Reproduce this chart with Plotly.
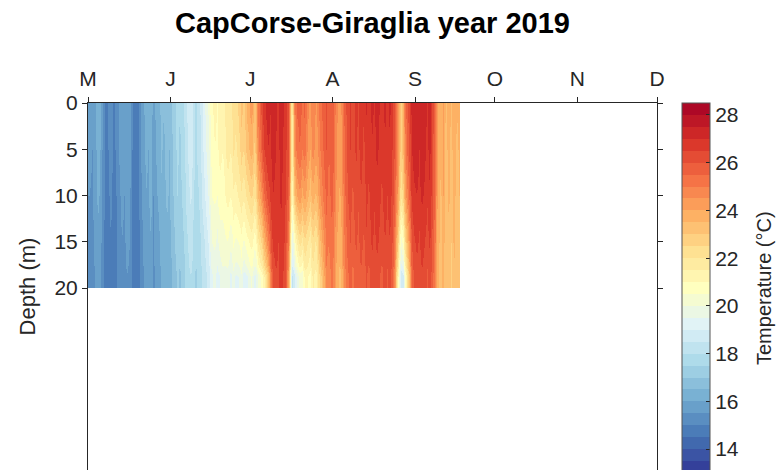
import numpy as np
import pandas as pd
import plotly.graph_objects as go

# ---------------- data (daily, from 1 May 2019) ----------------
start_date = "2019-05-01"
depths = [0, 5, 10, 15, 20]

t_0m = [15.6, 15.5, 15.9, 16.3, 16.1, 15.4, 14.9, 15.0, 15.2, 14.9,
        15.1, 15.5, 15.8, 15.6, 16.0, 15.7, 15.0, 14.8, 14.9, 15.4,
        15.8, 16.2, 16.0, 16.4, 15.6, 16.1, 16.3, 16.7, 16.5, 16.9,
        16.6, 17.0, 17.4, 17.8, 17.5, 17.9, 18.2, 18.6, 19.0, 18.4,
        17.9, 18.3, 18.7, 19.2, 19.8, 20.2, 20.8, 21.2, 20.9, 21.4,
        21.1, 21.6, 22.0, 21.7, 22.4, 22.1, 22.6, 23.2, 22.8, 23.6,
        23.9, 24.2, 23.0, 24.8, 25.6, 26.4, 26.9, 27.2, 27.0, 27.4,
        27.1, 26.8, 27.3, 27.0, 26.6, 26.2, 21.5, 24.5, 25.5, 25.8,
        25.2, 25.6, 24.6, 24.2, 25.0, 24.4, 24.8, 25.3, 25.8, 26.1,
        25.6, 26.0, 25.4, 24.6, 24.2, 24.8, 25.7, 26.3, 26.6, 26.2,
        26.7, 26.4, 26.8, 26.5, 27.0, 26.7, 27.1, 26.9, 27.2, 27.0,
        26.7, 27.1, 26.8, 27.1, 26.5, 25.8, 24.8, 22.8, 23.8, 25.4,
        26.2, 27.0, 27.3, 27.4, 27.1, 27.5, 27.2, 26.9, 27.3, 26.2,
        25.4, 24.0, 23.6, 24.2, 23.4, 23.8, 23.3, 23.9, 23.5, 23.7]

t_5m = [15.6, 15.5, 15.8, 16.2, 16.0, 15.4, 14.9, 15.0, 15.2, 14.9,
        15.1, 15.5, 15.7, 15.6, 15.9, 15.7, 15.0, 14.8, 14.9, 15.4,
        15.7, 16.1, 16.0, 16.3, 15.6, 16.0, 16.2, 16.6, 16.4, 16.8,
        16.5, 16.9, 17.3, 17.7, 17.4, 17.8, 18.1, 18.5, 18.9, 18.3,
        17.9, 18.2, 18.6, 19.1, 19.6, 20.0, 20.7, 21.0, 20.8, 21.2,
        21.0, 21.4, 21.8, 21.5, 22.1, 21.9, 22.3, 22.8, 22.5, 23.2,
        23.5, 23.8, 22.8, 24.4, 25.2, 26.0, 26.6, 27.0, 26.9, 27.2,
        27.0, 26.8, 27.2, 26.9, 26.5, 26.1, 21.4, 24.2, 25.2, 25.5,
        25.0, 25.3, 24.4, 24.0, 24.8, 24.2, 24.6, 25.1, 25.6, 26.0,
        25.5, 25.9, 25.3, 24.5, 24.1, 24.7, 25.6, 26.2, 26.5, 26.1,
        26.6, 26.3, 26.7, 26.4, 26.9, 26.6, 27.0, 26.8, 27.1, 26.9,
        26.6, 27.0, 26.7, 27.0, 26.4, 25.7, 24.7, 22.7, 23.6, 25.2,
        26.0, 26.9, 27.2, 27.3, 27.0, 27.4, 27.1, 26.8, 27.2, 26.1,
        25.3, 23.9, 23.5, 24.1, 23.3, 23.7, 23.2, 23.8, 23.4, 23.6]

t_10m = [15.5, 15.4, 15.7, 16.1, 15.9, 15.3, 14.8, 14.9, 15.1, 14.8,
         15.0, 15.4, 15.6, 15.5, 15.8, 15.6, 14.9, 14.7, 14.8, 15.3,
         15.6, 16.0, 15.9, 16.2, 15.5, 15.9, 16.1, 16.4, 16.3, 16.6,
         16.4, 16.8, 17.2, 17.5, 17.3, 17.6, 17.9, 18.3, 18.6, 18.1,
         17.8, 18.0, 18.4, 18.8, 19.3, 19.7, 20.5, 20.6, 20.5, 20.8,
         20.7, 21.0, 21.2, 21.0, 21.4, 21.3, 21.6, 21.9, 21.6, 22.1,
         22.4, 22.6, 22.0, 23.2, 24.0, 24.8, 25.6, 26.2, 26.6, 27.0,
         26.9, 26.7, 27.1, 26.8, 26.3, 25.8, 21.0, 23.0, 24.0, 24.4,
         23.8, 24.2, 23.6, 23.2, 23.8, 23.4, 24.0, 24.6, 25.2, 25.7,
         25.3, 25.7, 25.1, 24.3, 23.9, 24.5, 25.4, 26.0, 26.3, 25.9,
         26.4, 26.1, 26.5, 26.2, 26.7, 26.4, 26.9, 26.6, 26.9, 26.7,
         26.4, 26.8, 26.5, 26.8, 26.2, 25.4, 24.3, 22.0, 22.8, 24.4,
         25.4, 26.5, 26.9, 27.0, 26.8, 27.1, 26.9, 26.6, 27.0, 26.0,
         25.2, 23.8, 23.4, 24.0, 23.2, 23.6, 23.1, 23.7, 23.3, 23.5]

t_15m = [15.4, 15.3, 15.6, 15.9, 15.8, 15.2, 14.7, 14.8, 15.0, 14.7,
         14.9, 15.3, 15.5, 15.4, 15.6, 15.5, 14.8, 14.6, 14.7, 15.2,
         15.5, 15.8, 15.7, 16.0, 15.4, 15.7, 15.9, 16.2, 16.1, 16.4,
         16.2, 16.6, 17.0, 17.3, 17.1, 17.4, 17.7, 18.0, 18.3, 17.9,
         17.6, 17.8, 18.1, 18.4, 18.8, 19.2, 20.0, 20.1, 19.8, 20.2,
         20.3, 20.4, 20.5, 20.1, 20.6, 20.4, 20.5, 20.8, 20.4, 20.8,
         21.0, 21.2, 20.6, 21.5, 22.2, 22.8, 23.8, 24.8, 25.8, 26.6,
         26.7, 26.5, 26.9, 26.6, 26.0, 25.0, 19.5, 20.5, 21.5, 22.2,
         21.8, 22.4, 22.0, 21.6, 22.4, 21.9, 22.8, 23.6, 24.4, 25.2,
         25.0, 25.4, 24.8, 24.0, 23.6, 24.2, 25.1, 25.7, 26.0, 25.6,
         26.1, 25.8, 26.2, 25.9, 26.4, 26.1, 26.6, 26.3, 26.6, 26.4,
         26.1, 26.5, 26.2, 26.5, 25.9, 24.8, 23.0, 20.2, 20.8, 22.8,
         24.2, 25.8, 26.4, 26.6, 26.4, 26.7, 26.5, 26.2, 26.6, 25.8,
         25.0, 23.7, 23.3, 23.9, 23.1, 23.5, 23.0, 23.6, 23.2, 23.4]

t_20m = [15.3, 15.2, 15.5, 15.8, 15.6, 15.1, 14.6, 14.7, 14.9, 14.6,
         14.8, 15.2, 15.4, 15.3, 15.5, 15.4, 14.7, 14.5, 14.6, 15.1,
         15.4, 15.7, 15.6, 15.9, 15.3, 15.6, 15.8, 16.1, 16.0, 16.3,
         16.1, 16.5, 16.8, 17.1, 16.9, 17.2, 17.5, 17.8, 18.0, 17.7,
         17.4, 17.6, 17.9, 18.1, 18.5, 18.8, 19.4, 19.6, 19.2, 19.5,
         19.8, 19.6, 19.7, 19.3, 19.8, 19.4, 19.5, 19.9, 19.2, 19.4,
         19.8, 20.1, 19.3, 19.8, 20.4, 20.8, 21.6, 22.8, 24.6, 26.0,
         26.4, 26.3, 26.7, 26.4, 25.6, 24.0, 18.4, 18.8, 19.6, 20.2,
         20.0, 21.2, 21.0, 20.8, 21.6, 21.2, 22.0, 22.8, 23.8, 24.8,
         24.7, 25.1, 24.5, 23.7, 23.3, 23.9, 24.8, 25.4, 25.7, 25.3,
         25.8, 25.5, 25.9, 25.6, 26.1, 25.8, 26.3, 26.0, 26.3, 26.1,
         25.8, 26.2, 25.9, 26.2, 25.6, 24.0, 21.5, 18.5, 18.8, 21.0,
         23.0, 25.2, 26.0, 26.3, 26.1, 26.4, 26.2, 25.9, 26.3, 25.6,
         24.8, 23.6, 23.2, 23.8, 23.0, 23.4, 22.9, 23.5, 23.1, 23.3]

month_ticks = ["2019-05-01", "2019-06-01", "2019-07-01", "2019-08-01",
               "2019-09-01", "2019-10-01", "2019-11-01", "2019-12-01"]
month_labels = ["M", "J", "J", "A", "S", "O", "N", "D"]
depth_ticks = [0, 5, 10, 15, 20]
temp_ticks = [14, 16, 18, 20, 22, 24, 26, 28]
t_min, t_max, t_step = 13.0, 28.5, 0.5

# ---------------- geometry helpers ----------------
n_days = len(t_0m)
x_edges = pd.date_range(start_date, periods=n_days + 1, freq="D")
y_edges = [depths[0]] + [(a + b) / 2 for a, b in zip(depths[:-1], depths[1:])] + [depths[-1]]
z = [t_0m, t_5m, t_10m, t_15m, t_20m]

# discrete RdYlBu (reversed) colour map, 0.5 degC bands
rdylbu = ["#313695", "#4575b4", "#74add1", "#abd9e9", "#e0f3f8", "#ffffbf",
          "#fee090", "#fdae61", "#f46d43", "#d73027", "#a50026"]
rgb = np.array([[int(c[i:i + 2], 16) for i in (1, 3, 5)] for c in rdylbu], float)
n_bands = int(round((t_max - t_min) / t_step))
colorscale = []
for k in range(n_bands):
    f = (k + 0.5) / n_bands
    pos = f * (len(rgb) - 1)
    i0 = min(int(pos), len(rgb) - 2)
    w = pos - i0
    c = (1 - w) * rgb[i0] + w * rgb[i0 + 1]
    col = "rgb(%d,%d,%d)" % tuple(np.round(c))
    colorscale.append([k / n_bands, col])
    colorscale.append([(k + 1) / n_bands, col])

FONT = "Liberation Sans, Arial, Helvetica, sans-serif"
AXC = "#262626"

# plot area in pixels: x 88..657, y 103..470
PX_L, PX_R, PX_T, PX_B = 88, 657, 103, 470

fig = go.Figure(go.Heatmap(
    x=x_edges, y=y_edges, z=z,
    zmin=t_min, zmax=t_max, zsmooth="best",
    colorscale=colorscale,
    colorbar=dict(
        x=(682 - PX_L) / (PX_R - PX_L), xanchor="left", xpad=0,
        y=1, yanchor="top", ypad=0,
        lenmode="pixels", len=370, thickness=28,
        outlinecolor="#555555", outlinewidth=1,
        ticks="inside", ticklen=4, tickcolor=AXC,
        tickvals=temp_ticks,
        tickfont=dict(family=FONT, size=21, color=AXC),
    ),
))

fig.add_annotation(
    text="Temperature (°C)", textangle=-90,
    xref="paper", yref="paper",
    x=(764 - PX_L) / (PX_R - PX_L), y=1 - (288 - PX_T) / (PX_B - PX_T),
    xanchor="center", yanchor="middle", showarrow=False,
    font=dict(family=FONT, size=20, color=AXC),
)

fig.update_layout(
    width=776, height=470,
    margin=dict(l=PX_L, r=776 - PX_R, t=PX_T, b=0),
    paper_bgcolor="white", plot_bgcolor="white",
    title=dict(text="<b>CapCorse-Giraglia year 2019</b>",
               x=(PX_L + PX_R) / 2 / 776, xanchor="center",
               y=1 - 23 / 470, yanchor="middle",
               font=dict(family=FONT, size=29, color="black")),
    xaxis=dict(
        type="date", side="top",
        range=["2019-05-01", "2019-12-01"],
        tickvals=month_ticks, ticktext=month_labels,
        ticks="outside", ticklen=5, tickcolor=AXC,
        ticklabelstandoff=3,
        showline=True, linecolor=AXC, linewidth=1,
        showgrid=False, zeroline=False,
        tickfont=dict(family=FONT, size=21, color=AXC),
    ),
    yaxis=dict(
        range=[(PX_B - PX_T) / 9.25, 0],
        tickvals=depth_ticks,
        ticks="outside", ticklen=5, tickcolor=AXC,
        showline=True, linecolor=AXC, linewidth=1, mirror="ticks",
        showgrid=False, zeroline=False,
        tickfont=dict(family=FONT, size=21, color=AXC),
        title=dict(text="Depth (m)", standoff=12,
                   font=dict(family=FONT, size=22, color=AXC)),
    ),
)

fig.write_html("out.html")
